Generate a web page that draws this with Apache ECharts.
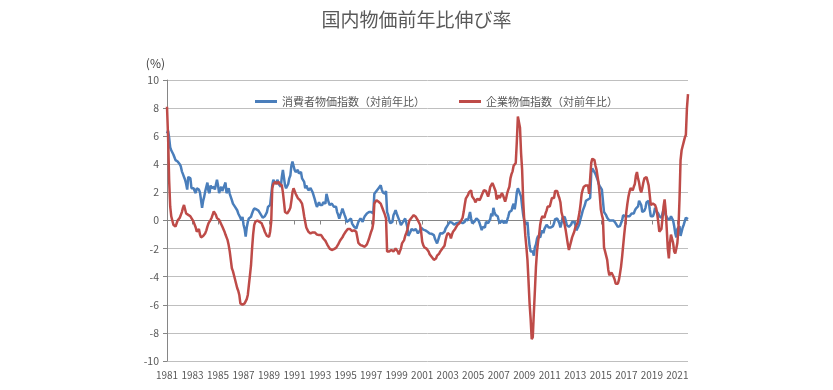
<!DOCTYPE html>
<html><head><meta charset="utf-8">
<script src="https://cdn.jsdelivr.net/npm/echarts@6/dist/echarts.min.js"></script>
<style>html,body{margin:0;padding:0;background:#fff}#c{width:833px;height:390px}</style>
</head><body><div id="c"></div>
<script>
const startYear = 1981;
const seriesNames = ['消費者物価指数（対前年比）', '企業物価指数（対前年比）'];
// 消費者物価指数 対前年比 (%), monthly, Jan 1981 - Nov 2021, one row per year
const cpiByYear = [
  [6.2, 6.4, 5.9, 5.2, 5.0, 4.9, 4.7, 4.5, 4.3, 4.3, 4.2, 4.3],
  [4.0, 3.85, 3.5, 3.3, 3.1, 2.9, 2.6, 2.2, 3.1, 3.1, 3.0, 2.3],
  [2.2, 2.3, 2.1, 1.95, 2.3, 2.4, 2.2, 2.0, 1.9, 0.9, 1.4, 1.7],
  [2.1, 2.4, 2.7, 2.1, 1.95, 2.5, 2.3, 2.2, 2.4, 2.2, 2.1, 2.9],
  [2.5, 1.95, 2.2, 2.4, 2.1, 2.2, 2.5, 2.7, 1.95, 2.1, 2.3, 1.9],
  [1.8, 1.45, 1.2, 1.1, 0.97, 0.85, 0.73, 0.5, 0.38, 0.2, 0.0, 0.26],
  [-0.3, -0.6, -1.15, -0.5, -0.1, 0.15, 0.2, 0.26, 0.5, 0.7, 0.85, 0.73],
  [0.8, 0.85, 0.7, 0.6, 0.45, 0.38, 0.2, 0.14, 0.3, 0.4, 0.6, 0.97],
  [1.1, 1.1, 1.2, 2.5, 2.9, 2.8, 2.6, 2.75, 2.9, 2.6, 2.5, 2.4],
  [3.1, 3.6, 3.5, 2.5, 2.3, 2.2, 2.6, 3.0, 3.2, 3.9, 4.2, 3.9],
  [3.6, 3.45, 3.5, 3.6, 3.35, 3.4, 3.45, 3.0, 2.9, 2.75, 2.3, 2.5],
  [2.3, 2.15, 2.2, 2.3, 2.15, 2.0, 1.9, 1.5, 1.2, 0.97, 1.1, 1.3],
  [1.1, 0.97, 1.1, 1.3, 1.25, 1.2, 1.9, 1.6, 1.3, 1.1, 1.1, 1.2],
  [1.1, 0.97, 0.97, 0.97, 0.6, 0.4, 0.14, 0.38, 0.6, 0.85, 0.97, 0.4],
  [0.2, -0.1, -0.05, 0.0, 0.1, 0.14, -0.2, -0.2, -0.45, -0.5, -0.57, -0.33],
  [-0.1, 0.0, 0.14, 0.0, -0.1, 0.14, 0.3, 0.38, 0.5, 0.55, 0.6, 0.6],
  [0.6, 0.6, 0.5, 1.9, 2.0, 2.1, 2.2, 2.3, 2.4, 2.5, 2.2, 2.0],
  [2.1, 1.9, 2.1, 0.6, 0.4, 0.0, -0.2, -0.15, -0.1, 0.38, 0.55, 0.73],
  [0.5, 0.38, 0.1, -0.1, -0.33, -0.2, -0.1, 0.0, 0.14, 0.14, -0.45, -1.1],
  [-1.0, -0.8, -0.6, -0.57, -0.7, -0.8, -0.6, -0.57, -0.92, -0.8, -0.68, -0.5],
  [-0.6, -0.65, -0.68, -0.7, -0.8, -0.8, -0.85, -0.92, -0.9, -0.95, -1.0, -1.04],
  [-1.3, -1.4, -1.63, -1.4, -1.28, -0.9, -0.8, -0.92, -0.85, -0.8, -0.57, -0.45],
  [-0.33, -0.2, -0.1, -0.2, -0.15, -0.1, -0.3, -0.25, -0.2, -0.1, -0.15, -0.2],
  [-0.1, 0.0, -0.2, -0.1, -0.1, 0.1, 0.14, 0.0, 0.3, 0.6, 0.14, -0.2],
  [-0.1, -0.1, 0.0, 0.14, 0.05, 0.0, -0.2, -0.3, -0.68, -0.45, -0.5, -0.5],
  [-0.1, -0.1, -0.2, -0.1, 0.1, 0.5, 0.3, 0.9, 0.6, 0.4, 0.3, 0.3],
  [0.0, -0.2, -0.1, 0.0, 0.0, -0.2, 0.0, -0.2, -0.2, 0.3, 0.6, 0.7],
  [0.7, 1.0, 1.2, 0.8, 1.3, 2.0, 2.3, 2.1, 2.1, 1.7, 1.0, 0.4],
  [0.0, -0.1, -0.3, -0.1, -1.1, -1.8, -2.2, -2.2, -2.2, -2.5, -1.9, -1.7],
  [-1.3, -1.1, -1.1, -1.2, -0.9, -0.7, -0.9, -0.6, -0.5, -0.3, -0.4, -0.5],
  [-0.6, -0.5, -0.5, -0.4, -0.2, 0.1, 0.0, 0.14, 0.0, -0.2, -0.5, -0.2],
  [0.2, 0.3, 0.26, 0.0, -0.33, -0.4, -0.45, -0.45, -0.3, -0.1, 0.0, -0.1],
  [-0.3, -0.7, -0.6, -0.4, -0.2, 0.14, 0.4, 0.7, 0.9, 1.1, 1.4, 1.5],
  [1.5, 1.56, 1.6, 3.4, 3.7, 3.6, 3.45, 3.3, 3.2, 2.9, 2.6, 2.45],
  [2.4, 2.2, 2.3, 0.6, 0.5, 0.38, 0.2, 0.14, 0.0, 0.0, 0.0, 0.0],
  [0.0, -0.1, -0.2, -0.3, -0.45, -0.45, -0.4, -0.2, 0.0, 0.38, 0.5, 0.3],
  [0.4, 0.3, 0.38, 0.3, 0.26, 0.5, 0.6, 0.5, 0.7, 0.85, 0.74, 1.0],
  [1.4, 1.5, 1.1, 0.6, 0.7, 0.7, 0.9, 1.3, 1.2, 1.4, 0.8, 0.3],
  [0.2, 0.3, 0.5, 0.9, 0.7, 0.7, 0.5, 0.3, 0.2, 0.2, 0.5, 0.8],
  [0.7, 0.4, 0.4, 0.1, 0.1, 0.1, 0.3, 0.2, 0.0, -0.4, -0.9, -1.2],
  [-0.6, -0.5, -0.4, -1.1, -0.8, -0.5, -0.3, -0.4, 0.2, 0.1, 0.1]
];
// 企業物価指数 対前年比 (%), monthly, Jan 1981 - Nov 2021, one row per year
const cgpiByYear = [
  [8.1, 6.0, 2.9, 1.0, 0.3, 0.0, -0.3, -0.43, -0.43, -0.3, 0.0, 0.1],
  [0.2, 0.3, 0.6, 0.9, 1.1, 0.8, 0.5, 0.45, 0.4, 0.4, 0.3, 0.2],
  [0.05, -0.1, -0.19, -0.5, -0.8, -0.9, -0.6, -1.0, -1.2, -1.26, -1.1, -1.02],
  [-0.9, -0.7, -0.43, -0.2, -0.07, 0.05, 0.2, 0.3, 0.64, 0.5, 0.4, 0.17],
  [0.1, 0.05, -0.1, -0.2, -0.43, -0.6, -0.78, -1.0, -1.2, -1.4, -1.75, -2.2],
  [-2.8, -3.4, -3.6, -3.9, -4.2, -4.5, -4.8, -5.0, -5.3, -5.9, -5.8, -6.0],
  [-6.1, -5.9, -6.0, -5.6, -5.3, -4.6, -3.9, -3.2, -2.0, -1.0, -0.33, -0.1],
  [0.0, 0.0, -0.1, -0.1, -0.1, -0.2, -0.4, -0.57, -0.8, -0.92, -1.1, -1.16],
  [-1.16, -0.8, -0.1, 2.3, 2.6, 2.7, 2.75, 2.6, 2.7, 2.75, 2.6, 2.6],
  [2.5, 2.0, 1.33, 0.6, 0.55, 0.5, 0.6, 0.73, 0.9, 1.4, 2.0, 2.3],
  [2.1, 1.9, 1.75, 1.6, 1.55, 1.45, 1.35, 1.2, 0.8, 0.3, -0.1, -0.5],
  [-0.65, -0.8, -0.85, -0.92, -0.92, -0.85, -0.8, -0.85, -0.92, -1.0, -1.04, -1.04],
  [-1.16, -1.04, -1.15, -1.28, -1.35, -1.45, -1.6, -1.75, -1.87, -2.0, -2.05, -2.1],
  [-2.08, -2.04, -2.0, -1.95, -1.87, -1.7, -1.55, -1.4, -1.3, -1.2, -1.04, -0.92],
  [-0.8, -0.68, -0.6, -0.57, -0.6, -0.68, -0.75, -0.8, -0.7, -0.68, -0.8, -0.92],
  [-1.6, -1.7, -1.75, -1.85, -1.8, -1.8, -1.87, -1.8, -1.7, -1.5, -1.3, -1.04],
  [-0.8, -0.6, -0.2, 1.2, 1.33, 1.45, 1.4, 1.33, 1.25, 1.2, 1.0, 0.8],
  [0.6, 0.4, 0.14, -2.2, -2.3, -2.2, -2.15, -2.1, -2.15, -2.2, -2.1, -2.0],
  [-2.1, -2.2, -2.4, -2.2, -2.0, -1.63, -1.5, -1.4, -1.1, -0.9, -0.68, -0.3],
  [0.0, 0.14, 0.2, 0.26, 0.38, 0.3, 0.26, 0.14, 0.0, -0.1, -0.3, -0.8],
  [-1.5, -1.75, -1.9, -2.0, -2.0, -2.05, -2.2, -2.4, -2.5, -2.6, -2.7, -2.8],
  [-2.8, -2.7, -2.5, -2.46, -2.35, -2.2, -2.1, -2.0, -1.95, -1.8, -1.4, -1.1],
  [-0.9, -0.8, -1.0, -1.28, -1.0, -0.8, -0.7, -0.6, -0.5, -0.33, -0.25, -0.2],
  [-0.1, 0.05, 0.2, 0.6, 1.1, 1.55, 1.65, 1.8, 2.0, 2.1, 2.15, 1.7],
  [1.6, 1.5, 1.3, 1.2, 1.55, 1.5, 1.45, 1.6, 1.8, 1.7, 2.15, 2.1],
  [2.1, 2.0, 1.7, 2.0, 2.4, 2.5, 2.66, 2.5, 2.3, 2.1, 1.5, 1.6],
  [1.8, 1.6, 1.5, 1.95, 1.8, 1.7, 1.35, 1.6, 1.95, 2.2, 2.4, 3.0],
  [3.3, 3.5, 3.9, 4.0, 4.1, 5.6, 7.4, 7.5, 6.6, 4.8, 3.6, 1.4],
  [0.0, -1.1, -1.9, -2.8, -4.3, -5.9, -7.0, -8.45, -8.3, -6.6, -5.0, -3.3],
  [-2.2, -1.5, -1.0, -0.3, 0.1, 0.3, 0.3, 0.2, 0.5, 0.7, 1.0, 1.0],
  [1.0, 1.3, 1.6, 1.7, 1.6, 2.1, 2.1, 2.1, 1.8, 1.6, 1.3, 0.6],
  [0.5, 0.0, -0.3, -0.7, -1.2, -1.7, -2.1, -1.8, -1.5, -1.2, -1.0, -0.8],
  [-0.5, -0.4, -0.2, 0.2, 0.6, 1.2, 1.9, 2.2, 2.4, 2.5, 2.5, 2.6],
  [2.5, 1.9, 1.9, 4.1, 4.4, 4.4, 4.3, 3.9, 3.6, 3.1, 2.6, 1.8],
  [0.8, 0.4, 0.1, -1.9, -2.2, -2.5, -2.8, -3.5, -3.9, -4.0, -3.7, -3.8],
  [-4.0, -4.2, -4.5, -4.6, -4.5, -4.25, -3.8, -3.3, -2.6, -1.8, -1.0, -0.3],
  [0.6, 1.2, 1.7, 2.05, 2.3, 2.2, 2.15, 2.4, 2.6, 3.2, 3.45, 3.0],
  [2.7, 2.2, 2.0, 2.3, 2.7, 3.0, 3.1, 3.1, 3.0, 2.5, 1.8, 1.1],
  [1.1, 1.2, 1.2, 1.1, 0.9, 0.5, -0.1, -0.8, -0.93, -0.6, 0.14, 1.0],
  [1.5, 0.7, -0.6, -2.0, -2.7, -1.6, -1.0, -1.05, -1.6, -2.2, -2.35, -2.0],
  [-1.6, -0.6, 1.5, 4.3, 5.0, 5.3, 5.6, 5.9, 6.1, 8.0, 9.0]
];

const cpi = cpiByYear.flat();
const cgpi = cgpiByYear.flat();
const months = cpi.map((_, i) => (startYear + Math.floor(i / 12)) + '/' + String(i % 12 + 1).padStart(2, '0'));

const FONT = '"Noto Sans CJK JP", "Noto Sans", sans-serif';
const AXIS_GRAY = '#868686';
const GRID_GRAY = '#bfbfbf';
const TEXT = '#595959';

const chart = echarts.init(document.getElementById('c'), null, { renderer: 'canvas' });
chart.setOption({
  animation: false,
  backgroundColor: '#ffffff',
  textStyle: { fontFamily: FONT },
  title: {
    text: '国内物価前年比伸び率',
    left: 'center',
    top: 5,
    textStyle: { fontFamily: FONT, fontSize: 19, fontWeight: 'normal', color: TEXT }
  },
  legend: {
    left: 250,
    top: 91,
    padding: 5,
    itemWidth: 22,
    itemHeight: 3,
    itemGap: 34,
    icon: 'rect',
    textStyle: { fontFamily: FONT, fontSize: 11, color: TEXT },
    data: seriesNames
  },
  grid: { left: 167, right: 145, top: 80, bottom: 29, containLabel: false },
  xAxis: [
    {
      type: 'category',
      data: months,
      boundaryGap: false,
      axisLine: { onZero: true, lineStyle: { color: AXIS_GRAY, width: 1 } },
      axisTick: { show: true, interval: 23, length: 4, lineStyle: { color: AXIS_GRAY } },
      axisLabel: { show: false },
      splitLine: { show: false }
    },
    {
      type: 'category',
      data: months,
      boundaryGap: false,
      position: 'bottom',
      axisLine: { show: false, onZero: false },
      axisTick: { show: false },
      axisLabel: {
        show: true,
        interval: 23,
        margin: 9,
        color: TEXT,
        fontFamily: FONT,
        fontSize: 10,
        formatter: v => v.slice(0, 4)
      },
      splitLine: { show: false }
    }
  ],
  yAxis: {
    type: 'value',
    min: -10,
    max: 10,
    interval: 2,
    name: '(%)',
    nameLocation: 'end',
    nameGap: 17,
    nameTextStyle: { fontFamily: FONT, fontSize: 12, color: '#404040', align: 'right', verticalAlign: 'middle', padding: [0, 2, 0, 0] },
    axisLine: { show: true, lineStyle: { color: AXIS_GRAY, width: 1 } },
    axisTick: { show: true, length: 4, lineStyle: { color: AXIS_GRAY } },
    axisLabel: { color: TEXT, fontFamily: FONT, fontSize: 10.5, margin: 8 },
    splitLine: { show: true, lineStyle: { color: GRID_GRAY, width: 1 } }
  },
  series: [
    {
      name: seriesNames[0],
      type: 'line',
      xAxisIndex: 0,
      data: cpi,
      showSymbol: false,
      symbol: 'none',
      lineStyle: { color: '#4a7ebb', width: 2.5 },
      itemStyle: { color: '#4a7ebb' },
      z: 3
    },
    {
      name: seriesNames[1],
      type: 'line',
      xAxisIndex: 0,
      data: cgpi,
      showSymbol: false,
      symbol: 'none',
      lineStyle: { color: '#be4b48', width: 2.5 },
      itemStyle: { color: '#be4b48' },
      z: 4
    }
  ]
});
</script>
</body></html>
